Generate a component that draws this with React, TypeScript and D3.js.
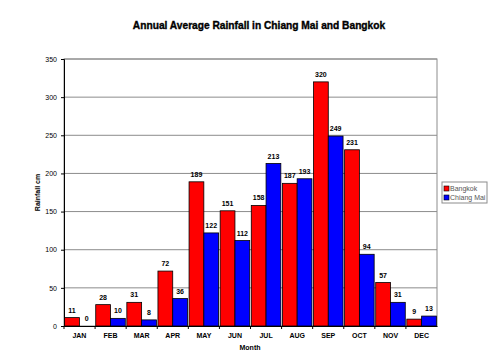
import React, { useEffect, useRef } from "react";
import * as d3 from "d3";

const months = ["JAN", "FEB", "MAR", "APR", "MAY", "JUN", "JUL", "AUG", "SEP", "OCT", "NOV", "DEC"];
const bangkok = [11, 28, 31, 72, 189, 151, 158, 187, 320, 231, 57, 9];
const chiangMai = [0, 10, 8, 36, 122, 112, 213, 193, 249, 94, 31, 13];
const seriesNames = ["Bangkok", "Chiang Mai"];
const seriesColors = ["#ff0000", "#0000ff"];
const yTicks = [0, 50, 100, 150, 200, 250, 300, 350];

export default function App() {
  const ref = useRef<SVGSVGElement>(null);

  useEffect(() => {
    const svg = d3.select(ref.current);
    svg.selectAll("*").remove();

    const left = 64, right = 437, top = 59, bottom = 326;

    const x = d3.scaleBand().domain(months).range([left, right]).paddingInner(0.05).paddingOuter(0.02);
    const sub = d3.scaleBand().domain(seriesNames).range([0, x.bandwidth()]);
    const y = d3.scaleLinear().domain([0, 350]).range([bottom, top]);

    svg.append("rect").attr("width", 500).attr("height", 354).attr("fill", "#fff");

    svg.append("text")
      .attr("x", 259).attr("y", 29)
      .attr("text-anchor", "middle")
      .attr("font-family", "Liberation Sans, Arial, sans-serif")
      .attr("font-weight", "bold").attr("font-size", 10.2)
      .attr("stroke", "#000").attr("stroke-width", 0.35)
      .text("Annual Average Rainfall in Chiang Mai and Bangkok");

    // gridlines
    svg.append("g").selectAll("line")
      .data(yTicks.slice(1))
      .join("line")
      .attr("x1", left).attr("x2", right)
      .attr("y1", d => y(d)).attr("y2", d => y(d))
      .attr("stroke", "#8c8c8c").attr("stroke-width", 1);

    svg.append("rect")
      .attr("x", left).attr("y", top)
      .attr("width", right - left).attr("height", bottom - top)
      .attr("fill", "none").attr("stroke", "#8c8c8c");

    const yAxis = svg.append("g")
      .attr("transform", `translate(${left},0)`)
      .call(d3.axisLeft(y).tickValues(yTicks).tickSize(3).tickPadding(4));
    yAxis.select(".domain").attr("stroke", "#000");
    yAxis.selectAll("text")
      .attr("font-family", "Liberation Sans, Arial, sans-serif")
      .attr("font-size", 7).attr("fill", "#000");

    const xAxis = svg.append("g")
      .attr("transform", `translate(0,${bottom})`)
      .call(d3.axisBottom(x).tickSize(0).tickPadding(7));
    xAxis.select(".domain").attr("stroke", "#000");
    xAxis.selectAll("text")
      .attr("font-family", "Liberation Sans, Arial, sans-serif")
      .attr("font-weight", "bold")
      .attr("font-size", 7).attr("fill", "#000");
    svg.append("g").selectAll("line")
      .data(months)
      .join("line")
      .attr("x1", (d, i) => left + (i * (right - left)) / 12)
      .attr("x2", (d, i) => left + (i * (right - left)) / 12)
      .attr("y1", bottom).attr("y2", bottom + 3)
      .attr("stroke", "#000");

    const rows = months.map((m, i) => ({ month: m, values: [bangkok[i], chiangMai[i]] }));

    const groups = svg.append("g").selectAll("g")
      .data(rows)
      .join("g")
      .attr("transform", d => `translate(${x(d.month)},0)`);

    groups.selectAll("rect")
      .data(d => d.values.map((v, k) => ({ key: seriesNames[k], v, k })))
      .join("rect")
      .attr("x", d => sub(d.key)!)
      .attr("y", d => y(d.v))
      .attr("width", sub.bandwidth())
      .attr("height", d => bottom - y(d.v))
      .attr("fill", d => seriesColors[d.k])
      .attr("stroke", "#000").attr("stroke-width", 0.8);

    groups.selectAll("text")
      .data(d => d.values.map((v, k) => ({ key: seriesNames[k], v })))
      .join("text")
      .attr("x", d => sub(d.key)! + sub.bandwidth() / 2)
      .attr("y", d => y(d.v) - 5)
      .attr("text-anchor", "middle")
      .attr("font-family", "Liberation Sans, Arial, sans-serif")
      .attr("font-weight", "bold").attr("font-size", 7)
      .text(d => d.v);

    svg.append("text")
      .attr("transform", `translate(40,${(top + bottom) / 2}) rotate(-90)`)
      .attr("text-anchor", "middle")
      .attr("font-family", "Liberation Sans, Arial, sans-serif")
      .attr("font-weight", "bold").attr("font-size", 7)
      .text("Rainfall cm");

    svg.append("text")
      .attr("x", 250).attr("y", 350)
      .attr("text-anchor", "middle")
      .attr("font-family", "Liberation Sans, Arial, sans-serif")
      .attr("font-weight", "bold").attr("font-size", 7)
      .text("Month");

    const legend = svg.append("g").attr("transform", "translate(442,182)");
    legend.append("rect")
      .attr("width", 45).attr("height", 21)
      .attr("fill", "#fff").attr("stroke", "#8c8c8c");
    seriesNames.forEach((name, i) => {
      legend.append("rect")
        .attr("x", 2).attr("y", 4 + i * 9)
        .attr("width", 5).attr("height", 5)
        .attr("fill", seriesColors[i]).attr("stroke", "#000").attr("stroke-width", 0.6);
      legend.append("text")
        .attr("x", 8).attr("y", 9 + i * 9)
        .attr("font-family", "Liberation Sans, Arial, sans-serif")
        .attr("font-size", 7).attr("fill", "#555")
        .text(name);
    });
  }, []);

  return (
    <svg ref={ref} width={500} height={354} style={{ position: "absolute", left: 0, top: 0 }} />
  );
}
